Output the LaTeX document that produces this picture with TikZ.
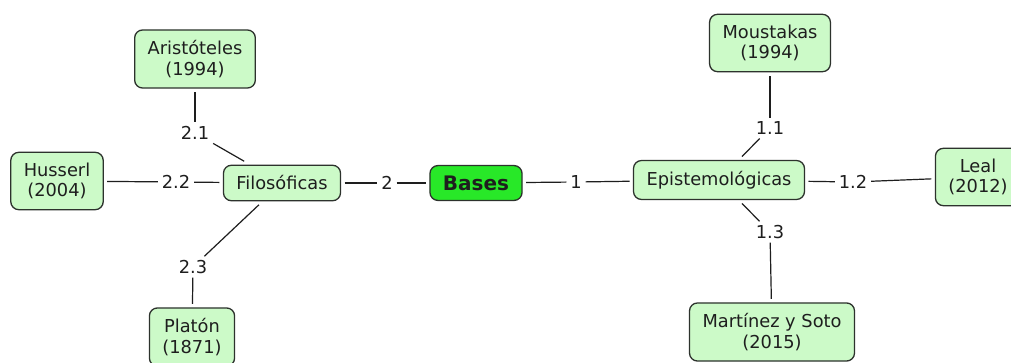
\documentclass[tikz,border=0pt]{standalone}
\usepackage{fontspec}
\setmainfont{DejaVu Sans}
\definecolor{boxfill}{RGB}{204,250,200}
\definecolor{basefill}{RGB}{40,232,40}
\definecolor{edge}{RGB}{45,50,45}
\definecolor{ink}{RGB}{30,30,30}
\begin{document}
\begin{tikzpicture}[x=1pt,y=-1pt,
  cbox/.style={draw=edge,line width=1.3pt,fill=boxfill,rounded corners=8pt,
    align=center,inner xsep=13pt,inner ysep=10.5pt,outer sep=4pt,text=ink,
    font=\fontsize{17.8}{20.5}\selectfont},
  lbl/.style={inner sep=2pt,outer sep=2pt,font=\fontsize{17.8}{20.5}\selectfont,text=ink},
  conn/.style={draw=ink,line width=1.2pt}]
\useasboundingbox (0,0) rectangle (1011,363);
\fill[white] (0,0) rectangle (1011,363);
\begin{scope}
\clip (0,0) rectangle (1011,363);
\node[cbox,fill=basefill,font=\fontsize{20}{22}\selectfont\bfseries,inner ysep=10pt] (bas) at (476,183) {Bases};
\node[cbox] (fil) at (282,183) {Filosóficas};
\node[cbox] (epi) at (719,180) {Epistemológicas};
\node[cbox] (ari) at (195,59) {Aristóteles\\(1994)};
\node[cbox] (hus) at (57,181) {Husserl\\(2004)};
\node[cbox] (pla) at (192,337) {Platón\\(1871)};
\node[cbox] (mou) at (770,43) {Moustakas\\(1994)};
\node[cbox] (lea) at (978,177) {Leal\\(2012)};
\node[cbox] (mar) at (772,332) {Martínez y Soto\\(2015)};
\node[lbl] (l2) at (387,183) {2};
\node[lbl] (l1) at (576,182) {1};
\node[lbl] (l21) at (195,133) {2.1};
\node[lbl] (l22) at (176,182) {2.2};
\node[lbl] (l23) at (193,267) {2.3};
\node[lbl] (l11) at (770,128) {1.1};
\node[lbl] (l12) at (853,182) {1.2};
\node[lbl] (l13) at (770,232) {1.3};
\draw[conn] (fil) -- (l2);
\draw[conn] (l2) -- (bas);
\draw[conn] (bas) -- (l1);
\draw[conn] (l1) -- (epi);
\draw[conn] (ari) -- (l21);
\draw[conn] (l21) -- (fil);
\draw[conn] (hus) -- (l22);
\draw[conn] (l22) -- (fil);
\draw[conn] (fil) -- (l23);
\draw[conn] (l23) -- (pla);
\draw[conn] (epi) -- (l11);
\draw[conn] (l11) -- (mou);
\draw[conn] (epi) -- (l12);
\draw[conn] (l12) -- (lea);
\draw[conn] (epi) -- (l13);
\draw[conn] (l13) -- (mar);
\end{scope}
\end{tikzpicture}
\end{document}
